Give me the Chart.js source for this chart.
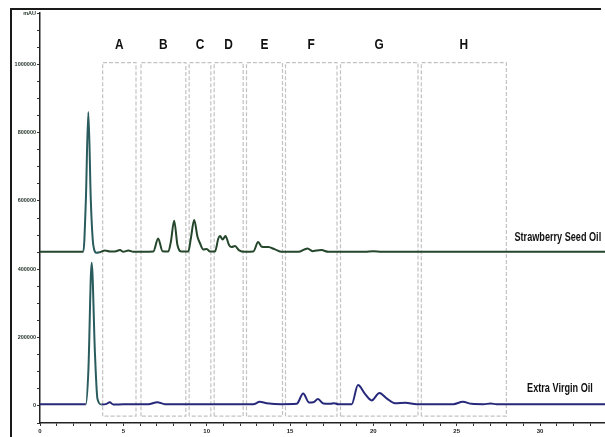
<!DOCTYPE html>
<html>
<head>
<meta charset="utf-8">
<script src="https://cdn.jsdelivr.net/npm/chart.js@4.4.1/dist/chart.umd.min.js"></script>
<style>
    body { margin: 0; background: #fff; }
    #wrap { position: relative; width: 605px; height: 437px; overflow: hidden; }
    #frame {
        position: absolute; left: 10px; top: 8px; width: 589px; height: 440px;
        border-top: 2px solid #1a1a1a; border-left: 2px solid #1a1a1a;
    }
    canvas { position: absolute; left: 0; top: 0; }
</style>
</head>
<body>
<div id="wrap">
    <div id="frame"></div>
    <canvas id="myChart" width="605" height="437"></canvas>
</div>
<script>

// retention time (min) / signal (mAU)
var ssoTime = [0, 2.6, 2.75, 2.9, 3.05, 3.2, 3.4, 3.6, 3.9, 4.2, 4.5, 4.8, 5.0, 5.3, 5.6, 6.2, 6.8, 7.09, 7.35, 7.7, 7.85, 8.05, 8.25, 8.5, 8.9, 9.05, 9.25, 9.45, 9.6, 9.8, 10.0, 10.2, 10.5, 10.7, 10.8, 10.96, 11.13, 11.35, 11.5, 11.7, 11.95, 12.3, 12.8, 13.09, 13.3, 13.7, 14.1, 14.5, 15.5, 16.05, 16.35, 16.6, 16.89, 17.3, 18, 19.5, 20, 20.5, 21, 24, 27, 34];
var ssoSignal = [451000, 451000, 600000, 860000, 600000, 470000, 448000, 450000, 455000, 452000, 452000, 456000, 451000, 455000, 451000, 451000, 452000, 490000, 453000, 452000, 480000, 542000, 470000, 452000, 452000, 490000, 544000, 495000, 476000, 458000, 459000, 452000, 452000, 490000, 497000, 487000, 497000, 470000, 465000, 468000, 455000, 451000, 452000, 480000, 466000, 465000, 458000, 451000, 451000, 461000, 453000, 455000, 456000, 451000, 451000, 451000, 453000, 451000, 451000, 451000, 451000, 451000];

var evoTime = [0, 2.75, 2.9, 3.1, 3.3, 3.45, 3.7, 4.0, 4.18, 4.4, 5, 6.5, 7.03, 7.5, 12.8, 13.18, 13.6, 14.5, 15.4, 15.79, 16.15, 16.4, 16.68, 17.0, 17.4, 17.66, 17.9, 18.7, 19.08, 19.5, 19.9, 20.37, 20.8, 21.3, 21.93, 22.6, 24.8, 25.37, 25.9, 26.6, 27.04, 27.4, 34];
var evoSignal = [5000, 5000, 100000, 419000, 150000, 20000, 4000, 6000, 11000, 4000, 5000, 5000, 11000, 5000, 5000, 12000, 8000, 5000, 6000, 36000, 10000, 11000, 20000, 7000, 6000, 8000, 5000, 5000, 61000, 35000, 16000, 38000, 22000, 8000, 9000, 5000, 5000, 12000, 6000, 5000, 7000, 5000, 5000];

var regionNames = ['A', 'B', 'C', 'D', 'E', 'F', 'G', 'H'];
var regionStart = [3.76, 6.06, 8.95, 10.45, 12.39, 14.73, 18.03, 22.88];
var regionEnd = [5.76, 8.75, 10.25, 12.19, 14.55, 17.82, 22.68, 27.98];
var regionTop = 1005000;
var regionBottom = -30000;
var regionLabelAt = 1056000;

var seriesNames = ['Strawberry Seed Oil', 'Extra Virgin Oil'];
var seriesLabelTime = [31.07, 31.2];
var seriesLabelAt = [494000, 49500];

var yTickLabels = { 0: '0', 200000: '200000', 400000: '400000', 600000: '600000', 800000: '800000', 1000000: '1000000', 1150000: 'mAU' };


function toPoints(xs, ys) {
    return xs.map(function (x, i) { return { x: x, y: ys[i] }; });
}

// the big solvent peak is drawn teal in the original
function peakColor(from, to, base) {
    return function (ctx) {
        var x = ctx.p0.parsed.x;
        return (x >= from && x < to) ? '#2a5c5e' : base;
    };
}

var datasets = [
    {
        data: toPoints(ssoTime, ssoSignal),
        borderColor: '#24462b',
        borderWidth: 2,
        pointRadius: 0,
        cubicInterpolationMode: 'monotone',
        segment: { borderColor: peakColor(2.55, 3.45, '#24462b') },
        order: 1
    },
    {
        data: toPoints(evoTime, evoSignal),
        borderColor: '#26287a',
        borderWidth: 2,
        pointRadius: 0,
        cubicInterpolationMode: 'monotone',
        segment: { borderColor: peakColor(2.7, 3.7, '#26287a') },
        order: 1
    }
];

regionNames.forEach(function (name, i) {
    datasets.push({
        data: [
            { x: regionStart[i], y: regionBottom },
            { x: regionStart[i], y: regionTop },
            { x: regionEnd[i], y: regionTop },
            { x: regionEnd[i], y: regionBottom },
            { x: regionStart[i], y: regionBottom }
        ],
        borderColor: '#c2c2c2',
        borderWidth: 1.2,
        borderDash: [4, 2],
        pointRadius: 0,
        tension: 0,
        order: 2
    });
});


var labelPlugin = {
    id: 'labels',
    afterDatasetsDraw: function (chart) {
        var c = chart.ctx;
        var xs = chart.scales.x;
        var ys = chart.scales.y;
        c.save();
        c.fillStyle = '#111';
        c.textAlign = 'center';
        c.textBaseline = 'middle';
        c.font = 'bold 14px "Liberation Sans"';
        regionNames.forEach(function (name, i) {
            var px = xs.getPixelForValue((regionStart[i] + regionEnd[i]) / 2);
            var py = ys.getPixelForValue(regionLabelAt);
            c.save();
            c.translate(px, py);
            c.scale(0.85, 1);
            c.fillText(name, 0, 0);
            c.restore();
        });
        c.font = 'bold 12.5px "Liberation Sans"';
        seriesNames.forEach(function (name, i) {
            var px = xs.getPixelForValue(seriesLabelTime[i]);
            var py = ys.getPixelForValue(seriesLabelAt[i]);
            c.save();
            c.translate(px, py);
            c.scale(0.73, 1);
            c.fillText(name, 0, 0);
            c.restore();
        });
        c.restore();
    }
};


var chartArea = document.getElementById('myChart').getContext('2d');

var myChart = new Chart(chartArea, {
    type: 'line',
    data: { datasets: datasets },
    options: {
        responsive: false,
        animation: false,
        layout: { padding: { top: 13, right: 0, left: 0, bottom: 0 } },
        plugins: {
            legend: { display: false },
            tooltip: { enabled: false }
        },
        scales: {
            x: {
                type: 'linear',
                min: 0,
                max: 33.9,
                afterFit: function (s) { s.height = 14; },
                border: { color: '#222', width: 1.5 },
                grid: { drawOnChartArea: false, drawTicks: true, tickLength: 3, color: '#333' },
                ticks: {
                    stepSize: 1,
                    autoSkip: false,
                    includeBounds: false,
                    maxRotation: 0,
                    padding: 2,
                    color: '#222',
                    font: { size: 6, weight: 'bold', family: 'Liberation Sans' },
                    callback: function (v) { return v % 5 === 0 ? String(v) : ''; }
                }
            },
            y: {
                min: -50000,
                max: 1150000,
                afterFit: function (s) { s.width = 40; },
                border: { color: '#222', width: 1.5 },
                grid: { drawOnChartArea: false, drawTicks: true, tickLength: 3, color: '#333' },
                ticks: {
                    stepSize: 50000,
                    autoSkip: false,
                    padding: 1,
                    color: '#1f2f25',
                    font: { size: 5.5, weight: 'bold', family: 'Liberation Sans' },
                    callback: function (v) { return yTickLabels[v] !== undefined ? yTickLabels[v] : ''; }
                }
            }
        }
    },
    plugins: [labelPlugin]
});

</script>
</body>
</html>
